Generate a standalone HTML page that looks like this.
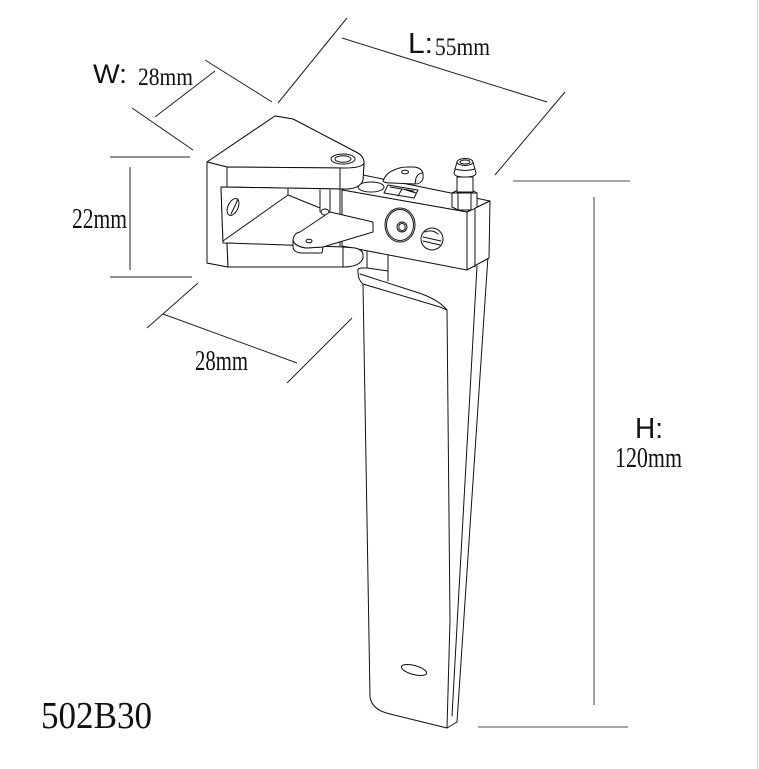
<!DOCTYPE html>
<html>
<head>
<meta charset="utf-8">
<style>
  html,body{margin:0;padding:0;background:#fff;}
  svg{display:block;}
  .k{fill:none;stroke:#111;stroke-width:1;stroke-linejoin:round;stroke-linecap:round;}
  .w{fill:#fff;stroke:#111;stroke-width:1;stroke-linejoin:round;}
  .d{fill:none;stroke:#222;stroke-width:1;}
  .g{fill:none;stroke:#8a8a8a;stroke-width:1.6;}
  .sans{font-family:"Liberation Sans",sans-serif;fill:#111;}
  .ser{font-family:"Liberation Serif",serif;fill:#111;}
</style>
</head>
<body>
<svg width="759" height="769" viewBox="0 0 759 769" xmlns="http://www.w3.org/2000/svg">
  <rect x="0" y="0" width="759" height="769" fill="#fff"/>
  <line x1="757.5" y1="0" x2="757.5" y2="769" stroke="#d6d6d6" stroke-width="1"/>

  <!-- ===== Dimension lines ===== -->
  <line class="d" x1="205" y1="60" x2="272" y2="102"/>
  <line class="d" x1="132" y1="108" x2="193" y2="150"/>
  <line class="d" x1="155" y1="117" x2="215" y2="71"/>
  <line class="d" x1="347" y1="18" x2="278" y2="103"/>
  <line class="d" x1="565" y1="92" x2="495" y2="175"/>
  <line class="d" x1="342" y1="38" x2="547" y2="102"/>
  <line class="d" x1="110" y1="157" x2="190" y2="157"/>
  <line class="d" x1="130" y1="167" x2="130" y2="270"/>
  <line class="d" x1="110" y1="277" x2="192" y2="277"/>
  <line class="d" x1="198" y1="283" x2="147" y2="328"/>
  <line class="d" x1="163" y1="314" x2="297" y2="363"/>
  <line class="d" x1="352" y1="318" x2="287" y2="383"/>
  <line class="g" x1="513" y1="181" x2="630" y2="181"/>
  <line class="g" x1="594" y1="197" x2="594" y2="705"/>
  <line class="g" x1="478" y1="727" x2="628" y2="727"/>

  <!-- ===== Labels ===== -->
  <text class="sans" x="93" y="83" font-size="27" textLength="34" lengthAdjust="spacingAndGlyphs">W:</text>
  <text class="ser" x="138" y="85" font-size="25" textLength="55" lengthAdjust="spacingAndGlyphs">28mm</text>
  <text class="sans" x="408" y="53" font-size="29" textLength="25" lengthAdjust="spacingAndGlyphs">L:</text>
  <text class="ser" x="435" y="55" font-size="25" textLength="55" lengthAdjust="spacingAndGlyphs">55mm</text>
  <text class="ser" x="72" y="228" font-size="29" textLength="55" lengthAdjust="spacingAndGlyphs">22mm</text>
  <text class="ser" x="195" y="370" font-size="29" textLength="53" lengthAdjust="spacingAndGlyphs">28mm</text>
  <text class="sans" x="635" y="438" font-size="29" textLength="28" lengthAdjust="spacingAndGlyphs">H:</text>
  <text class="ser" x="615" y="467" font-size="28" textLength="67" lengthAdjust="spacingAndGlyphs">120mm</text>
  <text class="ser" x="41" y="728" font-size="38" textLength="111" lengthAdjust="spacingAndGlyphs">502B30</text>

  <!-- ===== Rudder blade ===== -->
  <path class="k" d="M367,248 L367,268 L388,271 M388,250 L388,281"/>
  <path class="k" d="M358,272 Q357,268 362,268 L367,268 M358,272 Q358,280 363,284"/>
  <path class="k" d="M360,274 L422,294 Q440,301 447,310"/>
  <path class="k" d="M363,284 L440,307 L447,310"/>
  <path class="k" d="M363,284 L370,697 Q372,710 390,714 L447,728 L457,722"/>
  <path class="k" d="M447,310 L450,620 L447,728"/>
  <path class="k" d="M477,266 L452,716"/>
  <path class="k" d="M488,256 L457,722"/>
  <ellipse class="k" cx="414" cy="670" rx="13" ry="4.5" transform="rotate(15 414 670)"/>

  <!-- ===== Tiller bar ===== -->
  <path class="w" d="M342,190 L363,175 L490,201 L467,212 Z"/>
  <path class="w" d="M342,190 L467,212 L467,270 L342,246 Z"/>
  <path class="w" d="M467,212 L490,201 L489,258 L467,270 Z"/>
  <path class="k" d="M475,208 L475,267"/>
  <path class="k" d="M467,212 L475,208"/>

  <ellipse class="k" cx="371" cy="187" rx="13" ry="5"/>

  <!-- back tab -->
  <path class="w" d="M383,181 Q386,173 394,170 Q400,167 408,167 L414,167 Q423,168 423,175 L423,179 Q421,184 415,184 L392,183 Q384,183 383,181 Z"/>
  <path class="k" d="M415,184 L416,178 Q418,173 423,173"/>
  <ellipse class="k" cx="405" cy="172" rx="3.5" ry="1.8"/>

  <!-- slot -->
  <path class="w" d="M388,185 L418,190 L414,198 L384,193 Z"/>
  <path class="k" d="M390,187 L414,191 M402,189 L398,196 M406,190 L416,193"/>

  <!-- hose barb + nut -->
  <path class="w" d="M452,193 L458,190 L472,190 L477,193 L477,207 L472,210 L458,210 L452,207 Z"/>
  <path class="k" d="M458,193 L458,210 M471,193 L471,210 M452,193 L477,193"/>
  <path class="w" d="M457,177 L473,177 L473,192 L457,192 Z"/>
  <path class="w" d="M457,162 L473,162 L476,173 Q476,177 465,177 Q454,177 454,173 Z"/>
  <ellipse class="w" cx="465" cy="162" rx="8" ry="3.5"/>
  <ellipse class="k" cx="465" cy="162" rx="5" ry="2"/>
  <path class="k" d="M455,169 Q465,172 475,169"/>

  <!-- screw disc -->
  <ellipse class="w" cx="400" cy="225" rx="15" ry="17" stroke-width="1.4"/>
  <ellipse class="k" cx="400" cy="225" rx="13.5" ry="15.5" stroke-width="0.6"/>
  <circle class="k" cx="402" cy="227" r="5"/>
  <path class="k" d="M399,225 L402,223 L405,225 L405,229 L402,231 L399,229 Z" stroke-width="0.6"/>
  <!-- slotted screw -->
  <circle class="w" cx="432" cy="239" r="11" stroke-width="1.3"/>
  <path class="k" d="M423,237 L441,241 M423,241 L440,245"/>
  <path class="k" d="M425,232 Q432,229 438,234"/>

  <!-- ===== Mount block ===== -->
  <path class="w" stroke="none" d="M207,162 L275,116 L293,119 L356,152 Q364,156 364,163 L363,180 Q360,189 345,189 L340,189 L340,247 L355,248 Q363,250 363,255 L363,258 Q360,267 343,267 L228,267 L207,263 Z"/>
  <path class="w" d="M207,162 L275,116 L293,119 L356,152 Q364,156 364,163 Q362,168 345,168 L227,167 Z"/>
  <ellipse class="w" cx="343" cy="159" rx="12" ry="5" stroke-width="1.2"/>
  <ellipse class="k" cx="343" cy="159" rx="8" ry="3.3" stroke-width="1.2"/>
  <path class="w" d="M227,167 L345,168 Q362,168 364,163 L363,180 Q360,189 345,189 L227,187 Z"/>
  <path class="k" d="M340,168 L340,189"/>
  <path class="w" d="M207,162 L227,167 L227,187 L221,187 L223,243 L227,243 L228,267 L207,263 Z"/>
  <path class="w" d="M221,187 L340,189 L340,247 L223,243 Z"/>
  <path class="k" d="M223,241 L288,195 M288,189 L288,195 L320,208"/>
  <path class="k" d="M320,190 L320,212 M330,190 L330,212 M340,190 L340,208"/>
  <ellipse class="k" cx="233" cy="207" rx="5" ry="9" transform="rotate(25 233 207)"/>
  <path class="k" d="M231,214 Q235,206 238,199"/>
  <path class="w" d="M227,243 L343,247 L343,267 L228,267 Z"/>
  <path class="w" d="M343,247 L355,248 Q363,250 363,255 L363,258 Q360,267 343,267 Z"/>
  <ellipse class="w" cx="325" cy="212" rx="4" ry="3"/>

  <!-- ===== Servo horn ===== -->
  <path class="w" d="M293,240 L293,248 Q295,253 302,253 L322,253 L323,247 L306,248 Q294,246 293,240 Z"/>
  <path class="w" d="M300,232 L330,212 L373,222 L373,232 L323,247 L306,248 Q294,246 293,240 Q294,233 300,232 Z"/>
  <ellipse class="k" cx="309" cy="241" rx="3" ry="1.8"/>
</svg>
</body>
</html>
